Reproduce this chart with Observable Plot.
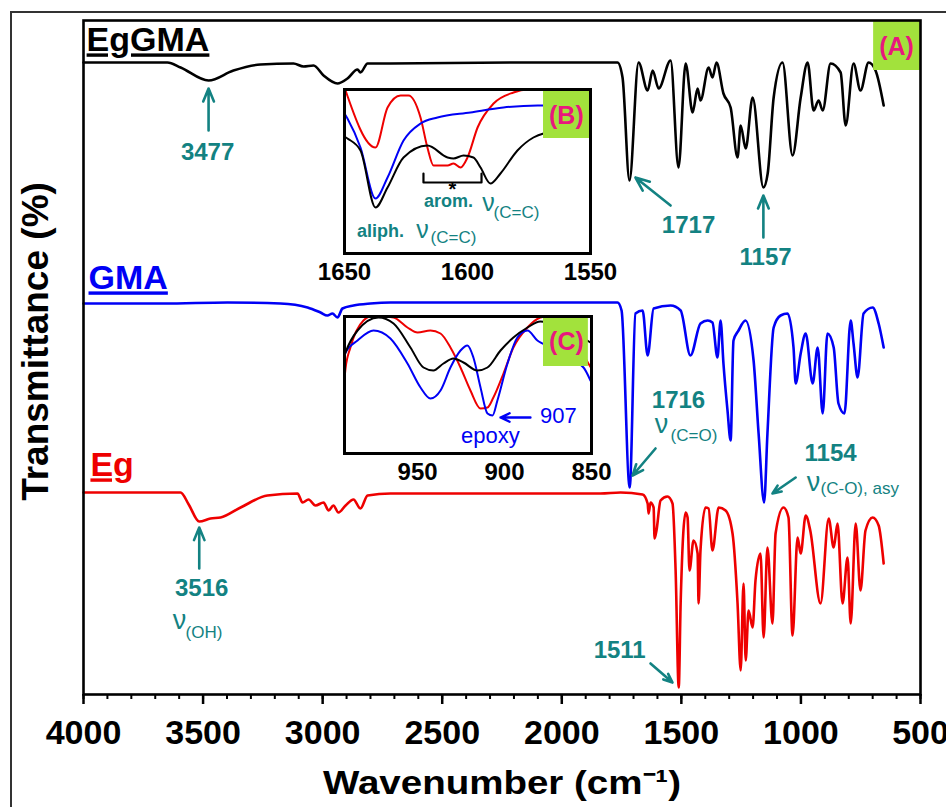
<!DOCTYPE html>
<html><head><meta charset="utf-8">
<script src="https://cdn.jsdelivr.net/npm/d3@7"></script>
<script src="https://cdn.jsdelivr.net/npm/@observablehq/plot@0.6"></script>
<style>
body{margin:0;background:#fff;}
#wrap{position:relative;width:946px;height:807px;overflow:hidden;font-family:'Liberation Sans',Arial,sans-serif;background:#fff;}
#border{position:absolute;left:10px;top:11px;width:980px;height:840px;border-top:2px solid #333;border-left:2px solid #333;}
</style></head><body><div id="wrap"><div id="border"></div></div>
<script>
// ---------- data: main spectra [wavenumber, transmittance (a.u., offset)] ----------
const egGMA = [[4000,63.2],[3649,63.2],[3594,62.7],[3477,61.4],[3373,62.4],[3260,63.0],[3122,63.1],[3080,62.8],[3038,62.9],[2996,61.9],[2938,61.1],[2896,61.6],[2854,62.5],[2842,62.2],[2812,63.1],[2716,63.1],[2200,63.2],[1767,63.2],[1746,61.7],[1717,51.4],[1679,63.2],[1641,60.4],[1620,62.4],[1595,60.6],[1545,63.4],[1512,52.7],[1482,63.1],[1453,58.2],[1432,60.6],[1420,59.4],[1386,62.7],[1370,61.7],[1353,63.2],[1324,60.1],[1294,58.7],[1265,53.7],[1252,56.9],[1231,54.6],[1202,59.7],[1157,50.7],[1139,52.1],[1114,59.7],[1077,63.2],[1035,53.9],[1001,59.7],[972,63.2],[947,58.4],[926,59.4],[909,58.4],[876,63.1],[834,62.2],[813,56.9],[780,63.1],[751,60.4],[717,63.2],[688,62.4],[654,58.9]];
const gma = [[4000,39.1],[3665,39.1],[3398,39.2],[3176,39.1],[3063,38.7],[3009,38.2],[2980,37.9],[2959,38.1],[2938,37.7],[2917,38.6],[2871,38.9],[2800,39.1],[2716,39.2],[1767,39.2],[1750,38.4],[1716,20.7],[1692,38.1],[1662,38.4],[1641,33.9],[1616,38.6],[1545,38.9],[1503,38.4],[1462,33.9],[1420,37.1],[1390,37.4],[1370,37.2],[1349,33.7],[1336,37.4],[1324,33.1],[1307,28.4],[1294,25.4],[1282,35.4],[1261,36.4],[1232,37.4],[1198,33.4],[1177,26.1],[1154,19.2],[1140,26.1],[1114,36.7],[1085,37.9],[1056,38.1],[1031,34.7],[1022,31.1],[1001,34.1],[980,36.1],[951,31.1],[930,34.7],[909,28.1],[889,36.1],[863,34.7],[843,29.1],[818,28.1],[792,37.4],[780,35.1],[763,31.7],[738,38.1],[700,38.7],[675,37.1],[654,34.7]];
const eg = [[4000,20.2],[3594,20.2],[3560,19.0],[3516,17.3],[3469,17.6],[3427,17.7],[3343,18.7],[3231,19.9],[3105,20.1],[3084,19.2],[3059,19.5],[3030,18.9],[2996,19.2],[2975,18.4],[2955,18.9],[2934,18.2],[2904,18.9],[2871,19.5],[2842,18.6],[2812,19.9],[2716,20.1],[1838,20.1],[1754,20.2],[1662,20.0],[1641,19.1],[1637,18.1],[1629,19.2],[1616,18.7],[1612,15.6],[1604,16.4],[1587,19.4],[1558,19.8],[1537,19.1],[1524,12.4],[1511,0.7],[1503,9.1],[1482,18.2],[1474,17.7],[1466,12.4],[1449,15.4],[1432,14.1],[1428,9.1],[1420,14.4],[1399,18.7],[1386,18.6],[1370,14.4],[1344,18.7],[1315,18.4],[1286,16.1],[1265,9.1],[1252,2.4],[1240,11.1],[1231,3.4],[1219,8.4],[1202,6.7],[1190,11.4],[1169,14.1],[1156,5.7],[1140,14.7],[1119,7.1],[1106,16.1],[1073,18.7],[1052,17.7],[1035,5.9],[1014,15.7],[1001,14.1],[980,17.9],[961,16.4],[918,9.1],[884,17.6],[863,14.7],[847,17.1],[826,9.1],[805,13.7],[792,7.1],[771,17.1],[751,10.4],[730,16.4],[700,17.7],[675,16.9],[654,13.1]];

// ---------- inset B (1650-1550) ----------
const bRed = [[1650,16.6],[1637.4,10.6],[1632.5,14.6],[1627.2,15.8],[1624,15.8],[1619.1,13.6],[1616.3,10.6],[1613.8,8.8],[1608.1,8.8],[1605.7,9.0],[1602.8,8.6],[1600,9.6],[1595.9,12.6],[1589.4,15.0],[1581.3,16.1],[1575.6,16.4],[1550,16.5]];
const bBlue = [[1650,14.0],[1648.8,13.5],[1643.5,10.6],[1637.4,5.5],[1632.5,7.6],[1626,11.3],[1619.1,13.0],[1612.2,13.6],[1598.8,14.1],[1585.4,14.6],[1571.5,14.8],[1550,14.8]];
const bBlack = [[1650,11.7],[1648.8,11.5],[1643.5,10.3],[1637.4,4.6],[1632.5,6.6],[1626,9.6],[1616.3,10.8],[1608.1,9.6],[1605.7,9.5],[1601.6,9.8],[1597.6,9.6],[1594.7,8.6],[1590.7,7.0],[1586.6,8.0],[1579.7,10.3],[1573.2,11.6],[1569.1,12.0],[1550,12.6]];
const bBracket = [[1617.9,8.0],[1617.9,7.1],[1594.3,7.1],[1594.3,8.0]];

// ---------- inset C (992-850) ----------
const cRed = [[992,7.5],[991.4,8.5],[988.6,10.6],[981.1,13.3],[975.3,13.8],[963.8,13.6],[955.8,12.6],[950,12.1],[942.6,12.3],[936.8,12.0],[931.1,10.6],[925.3,8.6],[919.6,6.3],[913.8,4.5],[909.8,4.6],[906.4,5.6],[900.6,8.0],[894.9,10.6],[886.8,12.6],[879.4,13.6],[871.9,13.8],[862,12.8],[851.8,9.0],[850,8.5]];
const cBlue = [[992,9.8],[991.4,10.1],[984.5,11.3],[975.3,12.3],[965.6,11.5],[955.8,9.0],[948.3,6.6],[942.6,5.5],[936.8,6.3],[931.1,8.6],[925.3,10.3],[921.3,10.8],[917.9,9.6],[913.8,6.6],[909.8,4.0],[906.9,3.8],[904.1,5.3],[898.3,9.0],[892.6,11.6],[886.8,12.3],[881.1,11.3],[878.2,11.0],[854.6,8.6],[850.6,7.3]];
const cBlack = [[992,9.8],[991.4,10.1],[984.5,12.3],[972.5,13.6],[963.8,13.0],[954.1,10.6],[946.6,8.6],[940.9,8.3],[935.1,9.0],[929.4,9.5],[923.6,9.1],[915.6,8.3],[909.8,8.6],[902.3,10.3],[894.9,11.6],[886.8,12.6],[879.4,13.2],[850.6,11.1]];

// ---------- ticks / labels ----------
const xTicks = [4000,3500,3000,2500,2000,1500,1000,500];
const xMinor = d3.range(500, 4001, 100);
const bTicks = [1650,1600,1550];
const cTicks = [950,900,850];

const seriesLabels = [
  {name:"EgGMA", wn:3987, t:65.4, color:"black"},
  {name:"GMA", wn:3979, t:41.6, color:"#0000f5"},
  {name:"Eg", wn:3971, t:22.9, color:"#ee0000"}
];
const peakLabels = [
  {wn:3481, t:54.2, label:"3477"},
  {wn:1470, t:46.9, label:"1717"},
  {wn:1148, t:43.7, label:"1157"},
  {wn:1512, t:29.4, label:"1716"},
  {wn:876, t:24.1, label:"1154"},
  {wn:3506, t:10.6, label:"3516"},
  {wn:1758, t:4.4, label:"1511"}
];
const nuLabels = [{wn:1583, t:27.0}, {wn:947, t:21.2}, {wn:3599, t:7.4}];
const subLabels = [{wn:1545, t:25.9, label:"(C=O)"}, {wn:918, t:20.6, label:"(C-O), asy"}, {wn:3573, t:6.2, label:"(OH)"}];
const peakArrows = [
  {x1:3477, y1:56.4, x2:3477, y2:60.6},
  {x1:1545, y1:48.9, x2:1692, y2:51.7},
  {x1:1157, y1:45.7, x2:1157, y2:49.9},
  {x1:1608, y1:24.6, x2:1704, y2:21.9},
  {x1:1022, y1:21.7, x2:1119, y2:20.1},
  {x1:3516, y1:12.6, x2:3516, y2:16.7},
  {x1:1629, y1:3.1, x2:1537, y2:1.2}
];
const bWords = [{wn:1607.7, t:5.2, label:"arom."}, {wn:1635.4, t:2.2, label:"aliph."}];
const bNu = [{wn:1591.5, t:5.1}, {wn:1618.3, t:2.4}];
const bSub = [{wn:1589.4, t:4.1, label:"(C=C)"}, {wn:1615.0, t:1.6, label:"(C=C)"}];
const cWords = [{wn:869, t:3.8, label:"907"}, {wn:908.1, t:1.8, label:"epoxy"}];
const cArrow = [{x1:885.1, y1:3.6, x2:902.3, y2:3.6}];

const FONT = "'Liberation Sans', Arial, sans-serif";
const TEAL = "#138282";
const PINK = "#e8177d";
const LIME = "#a2e23c";
const BLUE = "#0000f5";
const RED = "#ee0000";

const wrap = document.getElementById("wrap");
const lineOpts = (color, w, clip) => ({x: d => d[0], y: d => d[1], stroke: color, strokeWidth: w, curve: "monotone-x", clip});

const main = Plot.plot({
  width: 946, height: 807,
  marginLeft: 83, marginRight: 26, marginTop: 20, marginBottom: 113,
  style: {fontFamily: FONT, background: "transparent", overflow: "visible"},
  x: {domain: [4000, 500], label: null},
  y: {domain: [0, 67.4], axis: null},
  marks: [
    Plot.axisX({ticks: xMinor, tickSize: 5, tickFormat: () => "", strokeWidth: 2, label: null}),
    Plot.axisX({ticks: xTicks, tickSize: 10, tickPadding: 15, tickFormat: d => String(d), fontSize: 34, fontWeight: "bold", strokeWidth: 2.5, label: null, fill: "black"}),
    Plot.line(egGMA, lineOpts("black", 2.6)),
    Plot.line(gma, lineOpts(BLUE, 2.6)),
    Plot.line(eg, lineOpts(RED, 2.6)),
    Plot.text(seriesLabels, {x: "wn", y: "t", text: "name", fill: d => d.color, fontSize: 34, fontWeight: "bold", textAnchor: "start"}),
    Plot.arrow(peakArrows, {x1: "x1", y1: "y1", x2: "x2", y2: "y2", stroke: TEAL, strokeWidth: 2.6, headLength: 11, headAngle: 45}),
    Plot.text(peakLabels, {x: "wn", y: "t", text: "label", fill: TEAL, fontSize: 24, fontWeight: "bold"}),
    Plot.text(nuLabels, {x: "wn", y: "t", text: () => "ν", fill: TEAL, fontSize: 27}),
    Plot.text(subLabels, {x: "wn", y: "t", text: "label", fill: TEAL, fontSize: 17, textAnchor: "start"}),
    Plot.rect([{x1: 696, x2: 500, y1: 62.4, y2: 67.4}], {x1: "x1", x2: "x2", y1: "y1", y2: "y2", fill: LIME}),
    Plot.text([{wn: 600, t: 64.8}], {x: "wn", y: "t", text: () => "(A)", fill: PINK, fontSize: 25, fontWeight: "bold"}),
    Plot.text(["Transmittance (%)"], {frameAnchor: "left", textAnchor: "middle", lineAnchor: "middle", rotate: -90, dx: -47, dy: -16, fontSize: 37, fontWeight: "bold", fill: "black"}),
    Plot.text(["Wavenumber (cm⁻¹)"], {frameAnchor: "bottom", textAnchor: "middle", lineAnchor: "middle", dy: 89, fontSize: 33, fontWeight: "bold", fill: "black"}),
    Plot.frame({stroke: "black", strokeWidth: 2.6})
  ]
});
main.style.position = "absolute"; main.style.left = "0px"; main.style.top = "0px";
wrap.appendChild(main);

d3.select(main).selectAll("text").each(function() {
  const t = this.textContent;
  if (t === "EgGMA" || t === "GMA" || t === "Eg") d3.select(this).style("text-decoration", "underline");
  if (t.startsWith("Wavenumber")) { this.setAttribute("textLength", 358); this.setAttribute("lengthAdjust", "spacingAndGlyphs"); }
});

// ---------- inset B ----------
const insetB = Plot.plot({
  width: 286, height: 200, marginLeft: 20, marginRight: 20, marginTop: 2, marginBottom: 34,
  style: {fontFamily: FONT, background: "transparent", overflow: "visible"},
  x: {domain: [1650, 1550], label: null},
  y: {domain: [0, 16.4], axis: null},
  marks: [
    Plot.frame({fill: "white"}),
    Plot.line(bRed, lineOpts(RED, 2, true)),
    Plot.line(bBlue, lineOpts(BLUE, 2, true)),
    Plot.line(bBlack, lineOpts("black", 2, true)),
    Plot.line(bBracket, {x: d => d[0], y: d => d[1], stroke: "black", strokeWidth: 2.2}),
    Plot.text([{wn: 1606.1, t: 6.4}], {x: "wn", y: "t", text: () => "*", fill: "black", fontSize: 20, fontWeight: "bold"}),
    Plot.rect([{x1: 1569.1, x2: 1550, y1: 11.5, y2: 16.4}], {x1: "x1", x2: "x2", y1: "y1", y2: "y2", fill: LIME}),
    Plot.text([{wn: 1559.8, t: 13.8}], {x: "wn", y: "t", text: () => "(B)", fill: PINK, fontSize: 25, fontWeight: "bold"}),
    Plot.text(bWords, {x: "wn", y: "t", text: "label", fill: TEAL, fontSize: 18, fontWeight: "bold"}),
    Plot.text(bNu, {x: "wn", y: "t", text: () => "ν", fill: TEAL, fontSize: 25}),
    Plot.text(bSub, {x: "wn", y: "t", text: "label", fill: TEAL, fontSize: 17, textAnchor: "start"}),
    Plot.frame({stroke: "black", strokeWidth: 3}),
    Plot.axisX({ticks: bTicks, tickSize: 0, tickPadding: 9, tickFormat: d => String(d), fontSize: 24, fontWeight: "bold", label: null, fill: "black"})
  ]
});
insetB.style.position = "absolute"; insetB.style.left = "324px"; insetB.style.top = "87px";
wrap.appendChild(insetB);

// ---------- inset C ----------
const insetC = Plot.plot({
  width: 287, height: 173, marginLeft: 20, marginRight: 20, marginTop: 2, marginBottom: 34,
  style: {fontFamily: FONT, background: "transparent", overflow: "visible"},
  x: {domain: [992, 850], label: null},
  y: {domain: [0, 13.7], axis: null},
  marks: [
    Plot.frame({fill: "white"}),
    Plot.line(cRed, lineOpts(RED, 2, true)),
    Plot.line(cBlue, lineOpts(BLUE, 2, true)),
    Plot.line(cBlack, lineOpts("black", 2, true)),
    Plot.rect([{x1: 877.6, x2: 851.8, y1: 8.7, y2: 13.6}], {x1: "x1", x2: "x2", y1: "y1", y2: "y2", fill: LIME}),
    Plot.text([{wn: 864.4, t: 11.2}], {x: "wn", y: "t", text: () => "(C)", fill: PINK, fontSize: 25, fontWeight: "bold"}),
    Plot.arrow(cArrow, {x1: "x1", y1: "y1", x2: "x2", y2: "y2", stroke: BLUE, strokeWidth: 2.4, headLength: 9, headAngle: 50}),
    Plot.text(cWords, {x: "wn", y: "t", text: "label", fill: BLUE, fontSize: 22}),
    Plot.frame({stroke: "black", strokeWidth: 3}),
    Plot.axisX({ticks: cTicks, tickSize: 0, tickPadding: 9, tickFormat: d => String(d), fontSize: 24, fontWeight: "bold", label: null, fill: "black"})
  ]
});
insetC.style.position = "absolute"; insetC.style.left = "324px"; insetC.style.top = "314px";
wrap.appendChild(insetC);
</script></body></html>
